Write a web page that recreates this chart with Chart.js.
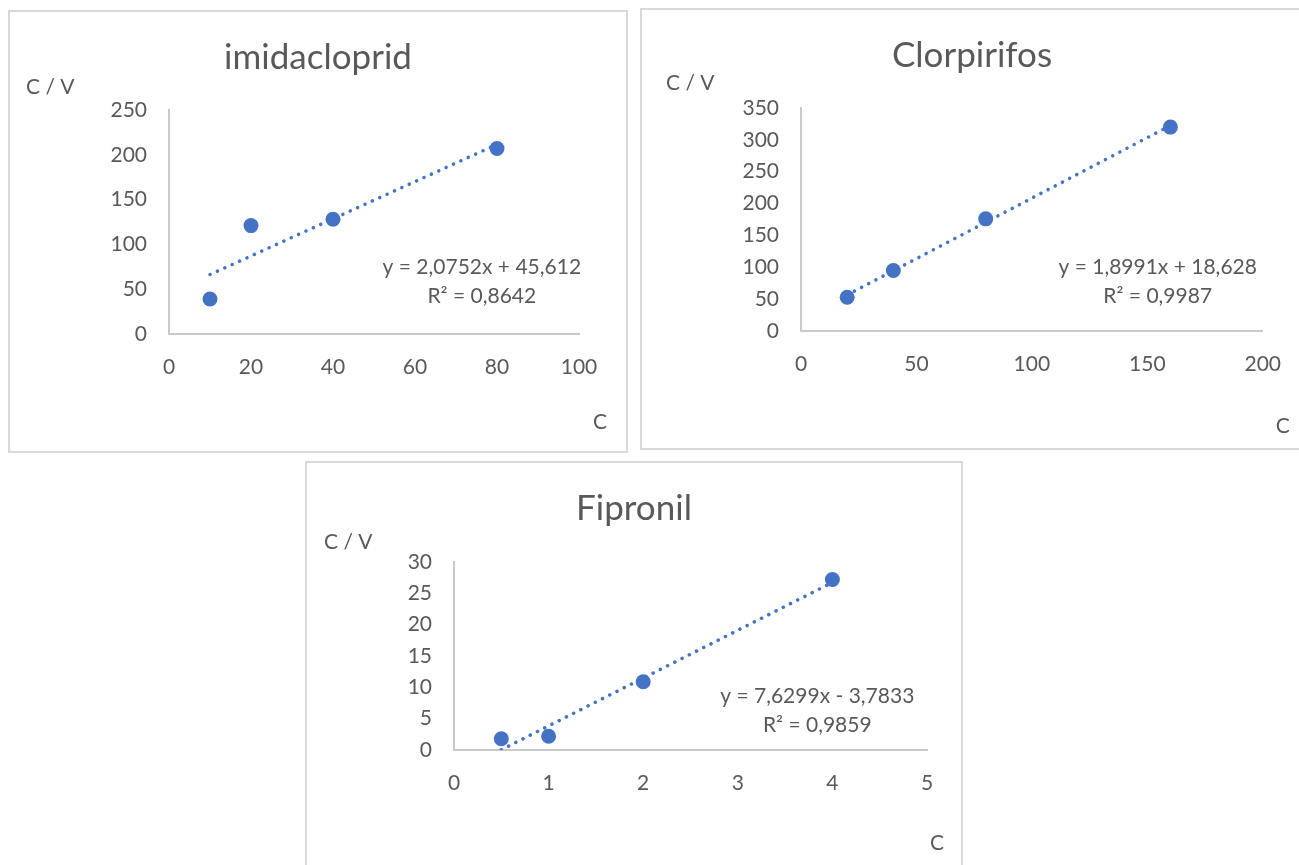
<!DOCTYPE html>
<html>
<head>
<meta charset="utf-8">
<script src="https://cdn.jsdelivr.net/npm/chart.js@4.4.0/dist/chart.umd.min.js"></script>
<style>
body{margin:0;background:#fff;width:1299px;height:865px;overflow:hidden;position:relative;}
.box{position:absolute;border:2px solid #d9d9d9;box-sizing:border-box;background:#fff;}
.box canvas{display:block;}
</style>
</head>
<body>
<div class="box" style="left:8px;top:10px;width:620px;height:443px"><canvas id="c1" width="616" height="439"></canvas></div>
<div class="box" style="left:640px;top:8px;width:664px;height:442px"><canvas id="c2" width="660" height="438"></canvas></div>
<div class="box" style="left:305px;top:461px;width:658px;height:444px"><canvas id="c3" width="654" height="440"></canvas></div>
<script>
// values
const imidaX = [10, 20, 40, 80];
const imidaY = [39, 121, 128, 207];
const imidaFit = [2.0752, 45.612];
const imidaXTicks = [0, 20, 40, 60, 80, 100];
const imidaYTicks = [0, 50, 100, 150, 200, 250];

const clorX = [20, 40, 80, 160];
const clorY = [53, 95, 176, 320];
const clorFit = [1.8991, 18.628];
const clorXTicks = [0, 50, 100, 150, 200];
const clorYTicks = [0, 50, 100, 150, 200, 250, 300, 350];

const fipX = [0.5, 1, 2, 4];
const fipY = [1.8, 2.2, 10.9, 27.2];
const fipFit = [7.6299, -3.7833];
const fipXTicks = [0, 1, 2, 3, 4, 5];
const fipYTicks = [0, 5, 10, 15, 20, 25, 30];

const blue = '#4472C4';
const grey = '#595959';
Chart.defaults.font.family = 'Lato';
Chart.defaults.color = grey;

// axis titles and trendline label, placed by hand like in excel
const extraText = {
  id: 'extraText',
  afterDraw(chart, args, opts) {
    const ctx = chart.ctx, area = chart.chartArea;
    const ex = chart.scales.x.getPixelForValue(opts.eqAt[0]);
    const ey = chart.scales.y.getPixelForValue(opts.eqAt[1]);
    ctx.save();
    ctx.font = '21px Lato';
    ctx.fillStyle = grey;
    ctx.textBaseline = 'middle';
    ctx.textAlign = 'left';
    ctx.fillText('C / V', area.left + opts.yTitle[0], area.top + opts.yTitle[1]);
    ctx.textAlign = 'center';
    ctx.fillText('C', area.right + opts.xTitle[0], area.bottom + opts.xTitle[1]);
    ctx.fillText(opts.eq[0], ex, ey);
    ctx.fillText(opts.eq[1], ex, ey + 29);
    ctx.restore();
  }
};

function trend(xs, fit) {
  const lo = Math.min(...xs), hi = Math.max(...xs);
  return [{x: lo, y: fit[0] * lo + fit[1]}, {x: hi, y: fit[0] * hi + fit[1]}];
}

function makeChart(id, s) {
  new Chart(document.getElementById(id), {
    type: 'scatter',
    data: {
      datasets: [{
        data: s.xs.map((x, i) => ({x: x, y: s.ys[i]})),
        backgroundColor: blue,
        borderColor: blue,
        pointRadius: 7.5,
        pointBorderWidth: 0,
        order: 1
      }, {
        type: 'line',
        data: trend(s.xs, s.fit),
        borderColor: blue,
        borderWidth: 3.5,
        borderDash: [0.1, 8],
        borderCapStyle: 'round',
        pointRadius: 0,
        fill: false,
        order: 0
      }]
    },
    options: {
      responsive: false,
      animation: false,
      plugins: {
        legend: {display: false},
        tooltip: {enabled: false},
        title: {
          display: true,
          text: s.title,
          color: grey,
          font: {size: 35, weight: 'normal'},
          padding: {top: 25, bottom: s.titleGap}
        },
        extraText: {yTitle: s.yTitle, xTitle: s.xTitle, eq: s.eq, eqAt: s.eqAt}
      },
      scales: {
        x: {
          type: 'linear',
          min: s.xTicks[0],
          max: s.xTicks[s.xTicks.length - 1],
          afterBuildTicks: sc => { sc.ticks = s.xTicks.map(v => ({value: v})); },
          afterFit: sc => { sc.height = s.bottom; },
          grid: {display: false, drawTicks: false},
          border: {display: true, color: '#c9c9c9', width: 2},
          ticks: {font: {size: 21}, padding: 21, color: grey}
        },
        y: {
          type: 'linear',
          min: s.yTicks[0],
          max: s.yTicks[s.yTicks.length - 1],
          afterBuildTicks: sc => { sc.ticks = s.yTicks.map(v => ({value: v})); },
          afterFit: sc => { sc.width = s.left; },
          grid: {display: false, drawTicks: false},
          border: {display: true, color: '#c9c9c9', width: 2},
          ticks: {font: {size: 21}, padding: 22, color: grey}
        },
        // empty right axis, only keeps space so the title stays centred on the box
        yRight: {
          type: 'linear',
          position: 'right',
          afterFit: sc => { sc.width = s.right; },
          grid: {display: false, drawTicks: false},
          border: {display: false},
          ticks: {display: false}
        }
      }
    },
    plugins: [extraText]
  });
}

makeChart('c1', {
  title: 'imidacloprid', xs: imidaX, ys: imidaY, fit: imidaFit,
  xTicks: imidaXTicks, yTicks: imidaYTicks,
  left: 159, right: 47, bottom: 117, titleGap: 31,
  yTitle: [-143, -23], xTitle: [21, 88],
  eq: ['y = 2,0752x + 45,612', 'R² = 0,8642'], eqAt: [76.3, 74.8]
});

makeChart('c2', {
  title: 'Clorpirifos', xs: clorX, ys: clorY, fit: clorFit,
  xTicks: clorXTicks, yTicks: clorYTicks,
  left: 159, right: 39, bottom: 117, titleGap: 31,
  yTitle: [-135, -25], xTitle: [20, 95],
  eq: ['y = 1,8991x + 18,628', 'R² = 0,9987'], eqAt: [154.5, 100.5]
});

makeChart('c3', {
  title: 'Fipronil', xs: fipX, ys: fipY, fit: fipFit,
  xTicks: fipXTicks, yTicks: fipYTicks,
  left: 147, right: 34, bottom: 153, titleGap: 32,
  yTitle: [-130, -20], xTitle: [10, 93],
  eq: ['y = 7,6299x - 3,7833', 'R² = 0,9859'], eqAt: [3.84, 8.6]
});
</script>
</body>
</html>
